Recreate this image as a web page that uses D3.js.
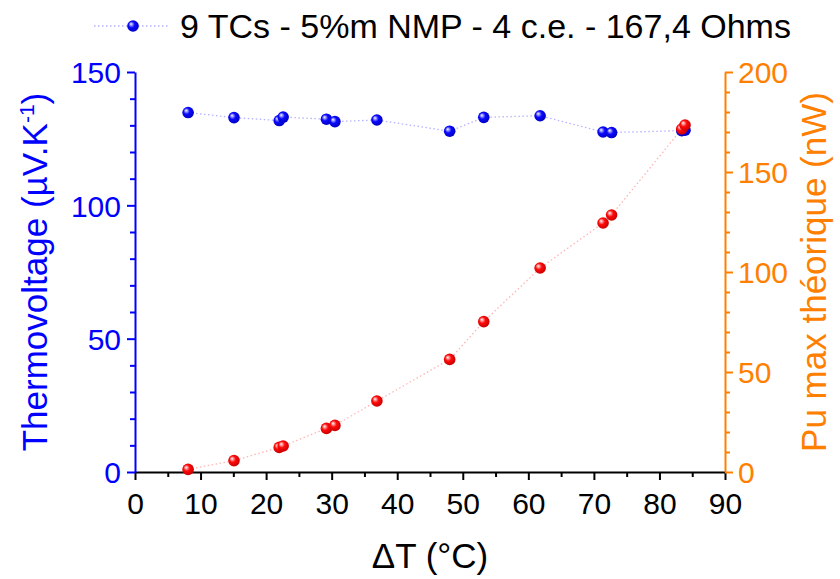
<!DOCTYPE html>
<html>
<head>
<meta charset="utf-8">
<script src="https://cdn.jsdelivr.net/npm/d3@7"></script>
<style>
  html, body { margin: 0; padding: 0; background: #fff; }
  svg { display: block; font-family: "Liberation Sans", Arial, sans-serif; }
</style>
</head>
<body>
<svg id="chart" width="840" height="579"></svg>
<script>
// ---- data ----
const deltaT = [8.1, 15.1, 22.0, 22.6, 29.2, 30.5, 36.9, 48.0, 53.2, 61.8, 71.4, 72.7, 83.4, 83.9];
const thermovoltage = [134.8, 132.9, 131.8, 133.1, 132.3, 131.4, 132.0, 127.8, 133.0, 133.6, 127.5, 127.3, 128.0, 128.2];
const puMax = [1.3, 5.7, 12.3, 13.0, 21.8, 23.3, 35.5, 56.3, 75.2, 102.0, 124.5, 128.5, 171.5, 173.5];
const xTicks = [0, 10, 20, 30, 40, 50, 60, 70, 80, 90];
const leftTicks = [0, 50, 100, 150];
const rightTicks = [0, 50, 100, 150, 200];
const legendLabel = "9 TCs - 5%m NMP - 4 c.e. - 167,4 Ohms";
const xTitle = "ΔT (°C)";
const rightTitle = "Pu max théorique (nW)";

const BLUE = "#0000ff", ORANGE = "#ff8000";

const svg = d3.select("#chart");
const plot = { left: 135, right: 725, top: 72, bottom: 472 };

const x = d3.scaleLinear().domain([0, 90]).range([plot.left, plot.right]);
const yL = d3.scaleLinear().domain([0, 150]).range([plot.bottom, plot.top]);
const yR = d3.scaleLinear().domain([0, 200]).range([plot.bottom, plot.top]);

// gradients for spheres
const defs = svg.append("defs");
function sphere(id, light, base, dark) {
  const g = defs.append("radialGradient").attr("id", id)
    .attr("cx", "0.45").attr("cy", "0.45").attr("r", "0.6")
    .attr("fx", "0.32").attr("fy", "0.32");
  g.append("stop").attr("offset", "0%").attr("stop-color", "#ffffff");
  g.append("stop").attr("offset", "18%").attr("stop-color", light);
  g.append("stop").attr("offset", "45%").attr("stop-color", base);
  g.append("stop").attr("offset", "100%").attr("stop-color", dark);
}
sphere("gBlue", "#9a9aff", "#0a0aff", "#0000b8");
sphere("gRed", "#ff9a9a", "#ff0a0a", "#c00000");

// axes
const fontTick = 30;
const FF = "Liberation Sans, Arial, sans-serif";
const bottomAxis = d3.axisBottom(x).tickValues(d3.range(0, 91, 5))
  .tickFormat(d => xTicks.includes(d) ? d : "")
  .tickSizeOuter(0);
const gx = svg.append("g").attr("transform", `translate(0,${plot.bottom})`).call(bottomAxis);
gx.select(".domain").attr("stroke", "#000").attr("stroke-width", 2);
gx.selectAll(".tick line").attr("stroke", "#000").attr("stroke-width", 2)
  .attr("y2", d => xTicks.includes(d) ? 8 : 5);
gx.selectAll(".tick text").attr("fill", "#000").attr("font-size", fontTick)
  .attr("font-family", FF).attr("y", 12).attr("dy", "1em");

const leftAxis = d3.axisLeft(yL).tickValues(d3.range(0, 151, 10))
  .tickFormat(d => leftTicks.includes(d) ? d : "").tickSizeOuter(0);
const gl = svg.append("g").attr("transform", `translate(${plot.left},0)`).call(leftAxis);
gl.select(".domain").attr("stroke", BLUE).attr("stroke-width", 2);
gl.selectAll(".tick line").attr("stroke", BLUE).attr("stroke-width", 2)
  .attr("x2", d => leftTicks.includes(d) ? -8 : -5);
gl.selectAll(".tick text").attr("fill", BLUE).attr("font-size", fontTick)
  .attr("font-family", FF).attr("x", -14).attr("dy", "0.36em");

const rightAxis = d3.axisRight(yR).tickValues(d3.range(0, 201, 10))
  .tickFormat(d => rightTicks.includes(d) ? d : "").tickSizeOuter(0);
const gr = svg.append("g").attr("transform", `translate(${plot.right},0)`).call(rightAxis);
gr.select(".domain").attr("stroke", ORANGE).attr("stroke-width", 2);
gr.selectAll(".tick line").attr("stroke", ORANGE).attr("stroke-width", 2)
  .attr("x2", d => rightTicks.includes(d) ? 8 : 5);
gr.selectAll(".tick text").attr("fill", ORANGE).attr("font-size", fontTick)
  .attr("font-family", FF).attr("x", 13).attr("dy", "0.36em");

// axis titles
svg.append("text").attr("x", (plot.left + plot.right) / 2).attr("y", 568)
  .attr("text-anchor", "middle").attr("font-size", 35).attr("fill", "#000").text(xTitle);

const lt = svg.append("text")
  .attr("transform", `translate(47,${(plot.top + plot.bottom) / 2}) rotate(-90)`)
  .attr("text-anchor", "middle").attr("font-size", 35).attr("fill", BLUE);
lt.append("tspan").text("Thermovoltage (µV.K");
lt.append("tspan").attr("font-size", 21).attr("dy", -13).text("-1");
lt.append("tspan").attr("dy", 13).text(")");

svg.append("text")
  .attr("transform", `translate(826,${(plot.top + plot.bottom) / 2}) rotate(-90)`)
  .attr("text-anchor", "middle")
  .attr("font-size", 35).attr("fill", ORANGE).text(rightTitle);

// series
const blueData = deltaT.map((d, i) => ({ x: d, y: thermovoltage[i] }));
const redData = deltaT.map((d, i) => ({ x: d, y: puMax[i] }));

svg.append("path").datum(blueData)
  .attr("d", d3.line().x(d => x(d.x)).y(d => yL(d.y)))
  .attr("fill", "none").attr("stroke", "#b4b4ff").attr("stroke-width", 1.3)
  .attr("stroke-dasharray", "1.5,2.5");
svg.append("path").datum(redData)
  .attr("d", d3.line().x(d => x(d.x)).y(d => yR(d.y)))
  .attr("fill", "none").attr("stroke", "#ffb4b4").attr("stroke-width", 1.3)
  .attr("stroke-dasharray", "1.5,2.5");

const R = 5.8;
svg.append("g").selectAll("circle").data(blueData).join("circle")
  .attr("cx", d => x(d.x)).attr("cy", d => yL(d.y)).attr("r", R)
  .attr("fill", "url(#gBlue)");
svg.append("g").selectAll("circle").data(redData).join("circle")
  .attr("cx", d => x(d.x)).attr("cy", d => yR(d.y)).attr("r", R)
  .attr("fill", "url(#gRed)");

// legend
const ly = 26;
svg.append("line").attr("x1", 94).attr("x2", 170).attr("y1", ly).attr("y2", ly)
  .attr("stroke", "#b4b4ff").attr("stroke-width", 1.3).attr("stroke-dasharray", "1.5,2.5");
svg.append("circle").attr("cx", 133).attr("cy", ly).attr("r", R).attr("fill", "url(#gBlue)");
svg.append("text").attr("x", 180).attr("y", ly).attr("dy", "0.36em")
  .attr("font-size", 34).attr("fill", "#000").text(legendLabel);
</script>
</body>
</html>
